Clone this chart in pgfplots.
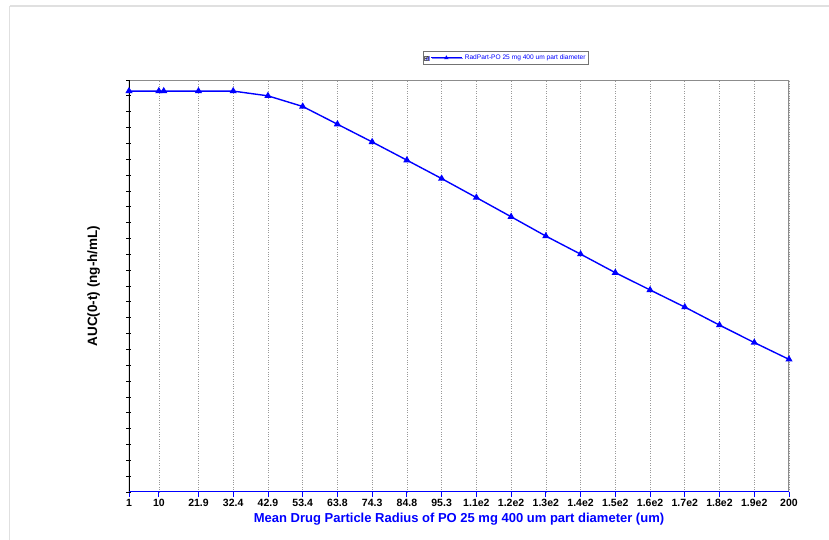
\documentclass[border=0pt]{standalone}
\usepackage{fontspec}
\setmainfont{Liberation Sans}
\usepackage{pgfplots}
\pgfplotsset{compat=1.18}
\usetikzlibrary{shadows}
\definecolor{ser}{RGB}{0,0,255}
\begin{document}
\begin{tikzpicture}
\path[use as bounding box] (-129pt,-48pt) rectangle (700pt,492pt);
% window frame
\draw[black!12, line width=2pt] (-119pt,486pt) -- (700pt,486pt);
\draw[black!12, line width=1pt] (-119pt,486pt) -- (-119pt,-48pt);
\begin{axis}[
  at={(0pt,0pt)}, anchor=south west,
  scale only axis, width=660pt, height=412pt,
  xmin=1, xmax=200, ymin=0, ymax=26,
  axis line style={draw=none},
  xtick={1,10,21.95,32.42,42.89,53.37,63.84,74.32,84.79,95.26,105.74,116.21,126.68,137.16,147.63,158.11,168.58,179.05,189.53,200},
  xticklabels={\textbf{1},\textbf{10},\textbf{21.9},\textbf{32.4},\textbf{42.9},\textbf{53.4},\textbf{63.8},\textbf{74.3},\textbf{84.8},\textbf{95.3},\textbf{1.1e2},\textbf{1.2e2},\textbf{1.3e2},\textbf{1.4e2},\textbf{1.5e2},\textbf{1.6e2},\textbf{1.7e2},\textbf{1.8e2},\textbf{1.9e2},\textbf{200}},
  xticklabel style={font=\fontsize{10.5}{11}\selectfont, yshift=1pt},
  ytick={0,1,...,26}, yticklabels={},
  xtick pos=bottom, ytick pos=left,
  minor x tick num=3,
  x tick style={ser, line width=0.8pt},
  y tick style={black, line width=0.8pt},
  xtick align=outside, ytick align=center,
  major tick length=5pt, minor tick length=3pt,
  xmajorgrids, major grid style={black!40, dotted, line width=0.6pt},
  xlabel={\textbf{Mean Drug Particle Radius of PO 25 mg 400 um part diameter (um)}},
  xlabel style={font=\fontsize{13}{14}\selectfont, text=ser, yshift=1pt},
  ylabel={\textbf{AUC(0-t) (ng-h/mL)}},
  ylabel style={font=\fontsize{13.5}{14}\selectfont, yshift=16pt},
  legend style={at={(axis description cs:0.445,1.07)}, anchor=north west,
    font=\fontsize{6.6}{7}\selectfont, text=ser, draw=black!55, line width=0.6pt,
    inner sep=1.2pt, row sep=0pt, cells={anchor=west},
    legend cell align=left, drop shadow={shadow xshift=0.8pt, shadow yshift=-0.8pt, fill=black!50}},
  legend image code/.code={
    \draw[black!60, fill=white, line width=0.3pt] (-2pt,-2pt) rectangle (2pt,2pt);
    \draw[black, line width=0.4pt] (-1.3pt,0pt) -- (-0.4pt,-1pt) -- (1.2pt,1.3pt);
    \draw[ser, line width=0.9pt, mark=triangle*, mark size=1.6pt, mark indices={2}]
      plot coordinates {(5pt,0pt) (20pt,0pt) (36pt,0pt)};
  },
  legend style={/tikz/every even column/.append style={column sep=14pt}},
]
\addplot[ser, line width=1.4pt, mark=triangle*, mark size=2.8pt, mark options={solid, fill=ser}]
  coordinates {
  (1,25.30) (10,25.30) (11.47,25.30) (21.95,25.30) (32.42,25.30)
  (42.89,25.00) (53.37,24.33) (63.84,23.21) (74.32,22.09) (84.79,20.94)
  (95.26,19.78) (105.74,18.58) (116.21,17.37) (126.68,16.15) (137.16,15.01)
  (147.63,13.84) (158.11,12.75) (168.58,11.67) (179.05,10.53) (189.53,9.43)
  (200,8.37)};
\addlegendentry{RadPart-PO 25 mg 400 um part diameter}
% frame of the plot area
\draw[black!45, line width=0.6pt] (rel axis cs:0,1) -- (rel axis cs:1,1);
\draw[black!45, line width=1.4pt] (rel axis cs:1,0) -- (rel axis cs:1,1);
\draw[black, line width=1.2pt] (rel axis cs:0,0) -- (rel axis cs:0,1);
\draw[ser, line width=1.2pt] (rel axis cs:0,0) -- (rel axis cs:1,0);
\end{axis}
\end{tikzpicture}
\end{document}
